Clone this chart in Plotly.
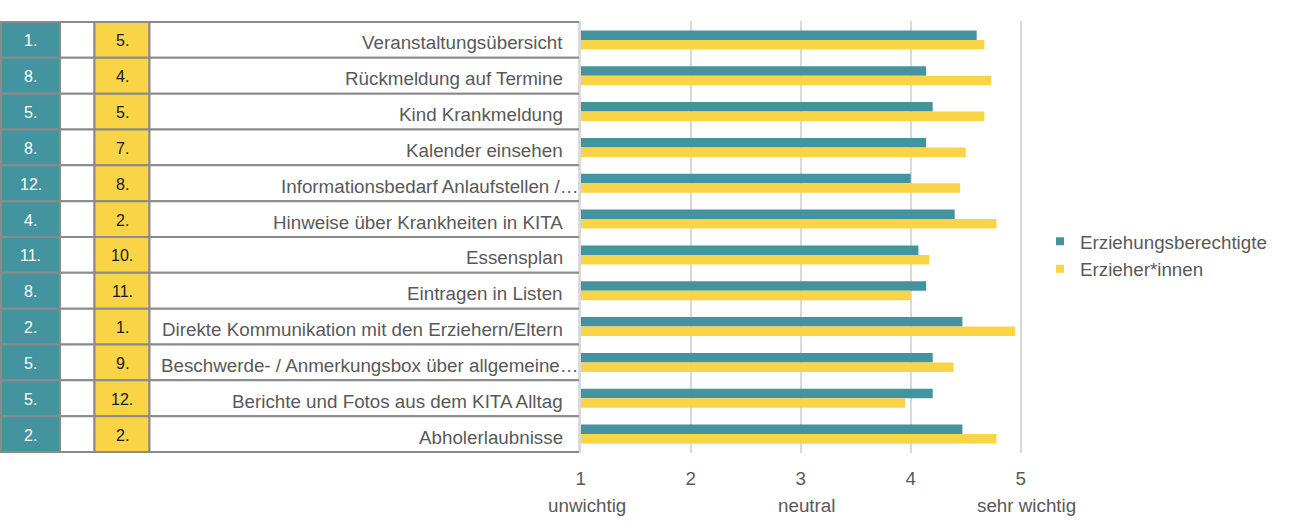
import plotly.graph_objects as go

categories = [
    "Veranstaltungsübersicht",
    "Rückmeldung auf Termine",
    "Kind Krankmeldung",
    "Kalender einsehen",
    "Informationsbedarf Anlaufstellen /…",
    "Hinweise über Krankheiten in KITA",
    "Essensplan",
    "Eintragen in Listen",
    "Direkte Kommunikation mit den Erziehern/Eltern",
    "Beschwerde- / Anmerkungsbox über allgemeine…",
    "Berichte und Fotos aus dem KITA Alltag",
    "Abholerlaubnisse",
]
eltern_values = [4.60, 4.14, 4.20, 4.14, 4.00, 4.40, 4.07, 4.14, 4.47, 4.20, 4.20, 4.47]
erzieher_values = [4.67, 4.73, 4.67, 4.50, 4.45, 4.78, 4.17, 4.00, 4.95, 4.39, 3.95, 4.78]
eltern_rank = ["1.", "8.", "5.", "8.", "12.", "4.", "11.", "8.", "2.", "5.", "5.", "2."]
erzieher_rank = ["5.", "4.", "5.", "7.", "8.", "2.", "10.", "11.", "1.", "9.", "12.", "2."]
tick_vals = [1, 2, 3, 4, 5]
scale_labels = {1: "unwichtig", 3: "neutral", 5: "sehr wichtig"}
series_names = ["Erziehungsberechtigte", "Erzieher*innen"]

TEAL = "#43949F"
YELLOW = "#F8D446"
GREY_TXT = "#595959"
BORDER = "#8a8a8a"
FONT = "Liberation Sans, Arial, sans-serif"
FS = 18.8

W, H = 1300, 531
L_PX = 580.7
UNIT = 110.0
XMAX = 5.3

fig = go.Figure()
fig.add_trace(go.Bar(y=categories, x=eltern_values, name=series_names[0], orientation="h",
                     marker=dict(color=TEAL, line=dict(width=0)), showlegend=False))
fig.add_trace(go.Bar(y=categories, x=erzieher_values, name=series_names[1], orientation="h",
                     marker=dict(color=YELLOW, line=dict(width=0)), showlegend=False))
# legend entries with small square symbols
for name, col in zip(series_names, [TEAL, YELLOW]):
    fig.add_trace(go.Scatter(x=[None], y=[None], mode="markers", name=name,
                             marker=dict(symbol="square", size=8, color=col),
                             showlegend=True, hoverinfo="skip"))

def px(xp):
    return xp / W

shapes = []
annotations = []
n = len(categories)
for i in range(n):
    y0, y1 = i - 0.5, i + 0.5
    for (a, b, fill) in [(1, 60, TEAL), (60, 94.5, "white"), (94.5, 149.5, YELLOW), (149.5, L_PX - 1, "white")]:
        shapes.append(dict(type="rect", xref="paper", yref="y", x0=px(a), x1=px(b), y0=y0, y1=y1,
                           fillcolor=fill, line=dict(color=BORDER, width=2), layer="below"))
    annotations.append(dict(xref="paper", yref="y", x=px(30.5), y=categories[i], text=eltern_rank[i],
                            showarrow=False, font=dict(family=FONT, size=16, color="white"),
                            xanchor="center", yanchor="middle", yshift=-1))
    annotations.append(dict(xref="paper", yref="y", x=px(122), y=categories[i], text=erzieher_rank[i],
                            showarrow=False, font=dict(family=FONT, size=16, color="#1a1a1a"),
                            xanchor="center", yanchor="middle", yshift=-1))
    right_edge = 581 if categories[i].endswith("…") else 565
    annotations.append(dict(xref="paper", yref="y", x=px(right_edge), y=categories[i], text=categories[i],
                            showarrow=False, font=dict(family=FONT, size=FS, color=GREY_TXT),
                            xanchor="right", yanchor="middle", yshift=-3))

for v, t in scale_labels.items():
    annotations.append(dict(xref="x", yref="paper", x=v, y=-(505.5 - 453) / 432, text=t,
                            showarrow=False, font=dict(family=FONT, size=FS, color=GREY_TXT),
                            xanchor="center", yanchor="middle", xshift=6))

fig.update_layout(
    width=W, height=H,
    margin=dict(l=0, r=0, t=21, b=78, autoexpand=False),
    paper_bgcolor="white", plot_bgcolor="white",
    barmode="group", bargap=0.47, bargroupgap=0,
    font=dict(family=FONT, size=FS, color=GREY_TXT),
    shapes=shapes, annotations=annotations,
    showlegend=True,
    legend=dict(x=px(1040), xanchor="left", y=(453 - 255) / 432, yanchor="middle",
                font=dict(family=FONT, size=FS, color=GREY_TXT),
                traceorder="normal", bgcolor="rgba(0,0,0,0)"),
    xaxis=dict(domain=[px(L_PX), px(L_PX + (XMAX - 1) * UNIT)], range=[1, XMAX],
               tickvals=tick_vals, ticktext=[str(v) for v in tick_vals],
               showgrid=True, gridcolor="#d9d9d9", gridwidth=2,
               zeroline=False, showline=False, ticks="", automargin=False,
               ticklabelstandoff=12,
               tickfont=dict(family=FONT, size=FS, color=GREY_TXT)),
    yaxis=dict(categoryorder="array", categoryarray=categories, autorange="reversed",
               showticklabels=False, showgrid=False, zeroline=False, automargin=False,
               showline=True, linecolor="#d9d9d9", linewidth=2, ticks=""),
)

fig.write_html("out.html")
